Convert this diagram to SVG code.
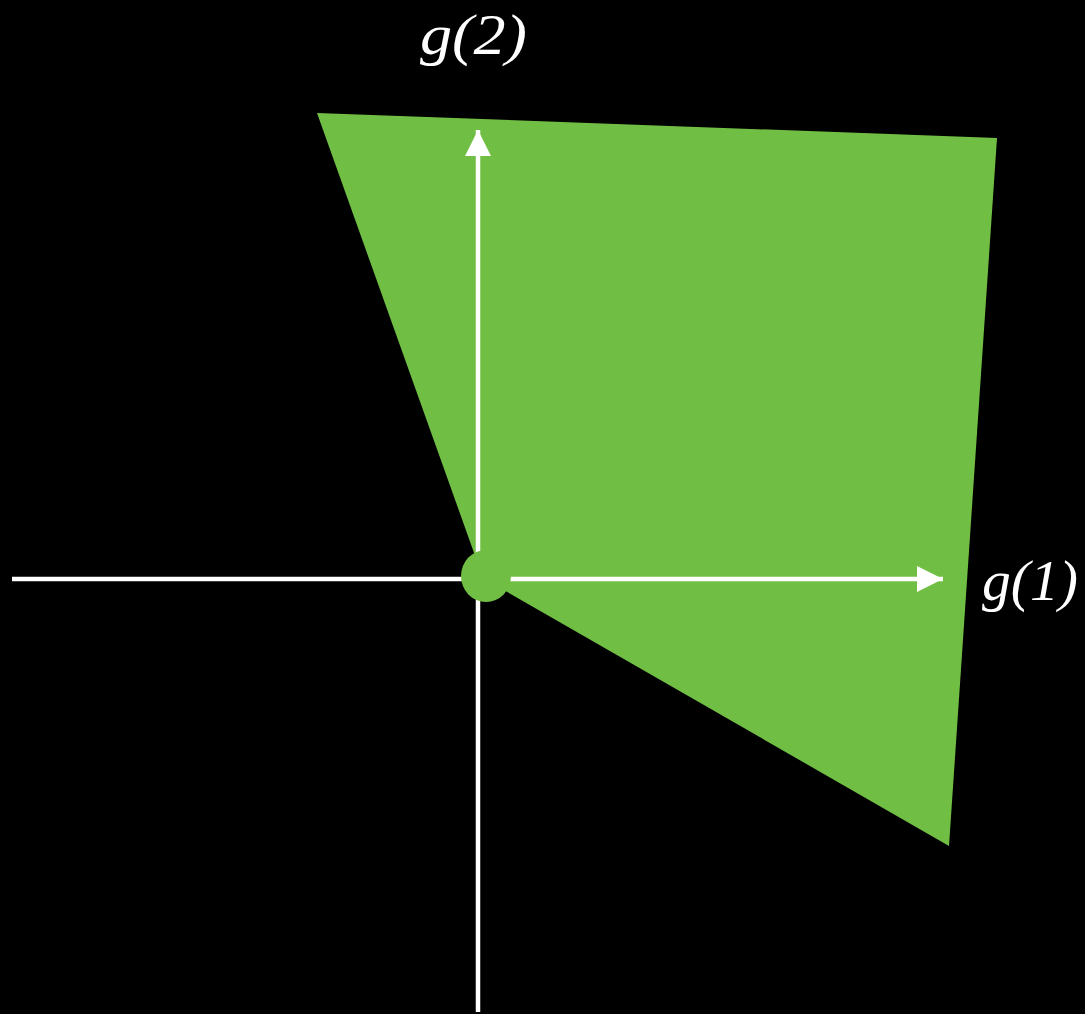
<svg xmlns="http://www.w3.org/2000/svg" width="1085" height="1014" viewBox="0 0 1085 1014">
<style>
.axis{stroke:#fff;stroke-width:4.5;fill:none}
.lbl{font-family:"Liberation Serif","DejaVu Serif",serif;font-style:italic;font-size:58px;fill:#fff}
</style>
<defs>
<marker id="arr" markerUnits="userSpaceOnUse" markerWidth="28" markerHeight="26" refX="26" refY="13" orient="auto">
<path d="M0,0 L26,13 L0,26 Z" fill="#fff"/>
</marker>
</defs>
<rect width="1085" height="1014" fill="#000"/>
<g id="region">
<polygon points="317,113 997,138 949,846 483,578" fill="#70BF44"/>
</g>
<g id="connectors">
<line class="axis" x1="12" y1="579" x2="943" y2="579" marker-end="url(#arr)"/>
<line class="axis" x1="478" y1="1012" x2="478" y2="130" marker-end="url(#arr)"/>
</g>
<g id="origin">
<ellipse cx="486" cy="576" rx="25" ry="26" fill="#70BF44"/>
</g>
<g id="label-g2">
<text class="lbl" x="420" y="54" textLength="107" lengthAdjust="spacingAndGlyphs">g(2)</text>
</g>
<g id="label-g1">
<text class="lbl" x="982" y="600" textLength="96" lengthAdjust="spacingAndGlyphs">g(1)</text>
</g>
</svg>
